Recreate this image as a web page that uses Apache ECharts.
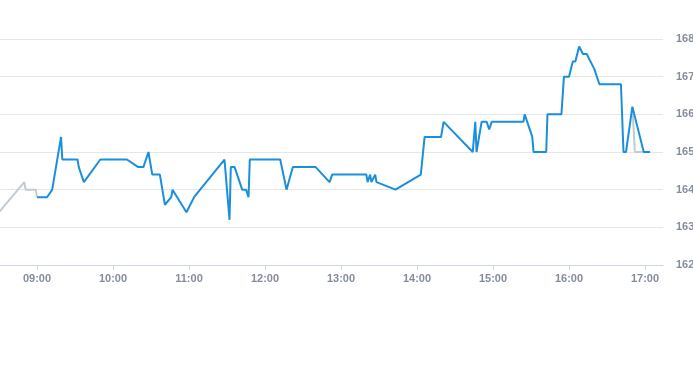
<!DOCTYPE html>
<html>
<head>
<meta charset="utf-8">
<script src="https://cdn.jsdelivr.net/npm/echarts@6/dist/echarts.min.js"></script>
<style>
html,body{margin:0;padding:0;background:#fff;}
#c{width:693px;height:365px;}
</style>
</head>
<body>
<div id="c"></div>
<script>
// Pre-market segment (grey)
var preTimes  = ['08:30','08:50','08:51','08:59','09:00'];
var preValues = [163.4, 164.2, 164.0, 164.0, 163.8];

// Main trading segment (blue)
var mainTimes = ['09:00','09:08','09:12','09:19','09:20','09:32','09:33','09:37','09:50','10:11',
  '10:20','10:24','10:28','10:31','10:37','10:41','10:46','10:47','10:58','11:04',
  '11:28','11:32','11:33','11:36','11:42','11:45','11:47','11:48','12:12','12:17',
  '12:22','12:40','12:51','12:53','13:20','13:21','13:23','13:24','13:27','13:28',
  '13:43','14:03','14:06','14:19','14:21','14:44','14:46','14:47','14:51','14:55',
  '14:57','14:59','15:24','15:25','15:29','15:31','15:32','15:42','15:43','15:54',
  '15:56','16:00','16:03','16:05','16:08','16:09','16:11','16:14','16:20','16:24',
  '16:41','16:43','16:45','16:50','16:59','17:04'];
var mainValues = [163.8,163.8,164.0,165.4,164.8,164.8,164.6,164.2,164.8,164.8,
  164.6,164.6,165.0,164.4,164.4,163.6,163.8,164.0,163.4,163.8,
  164.8,163.2,164.6,164.6,164.0,164.0,163.8,164.8,164.8,164.0,
  164.6,164.6,164.2,164.4,164.4,164.2,164.4,164.2,164.4,164.2,
  164.0,164.4,165.4,165.4,165.8,165.0,165.8,165.0,165.8,165.8,
  165.6,165.8,165.8,166.0,165.6,165.4,165.0,165.0,166.0,166.0,
  167.0,167.0,167.4,167.4,167.8,167.8,167.6,167.6,167.2,166.8,
  166.8,165.0,165.0,166.2,165.0,165.0];

// Post segment (grey)
var postTimes  = ['16:50','16:52','16:59'];
var postValues = [166.2, 165.0, 165.0];

// Axis
var axisStart = '08:30:48';
var axisEnd   = '17:14:12';
var yMin = 162, yMax = 168, yStep = 1;

function toDate(s){
  var p = s.split(':').map(Number);
  return new Date(2024, 0, 2, p[0], p[1], p[2] || 0).getTime();
}
function pairs(ts, vs){ return ts.map(function(t,i){ return [toDate(t), vs[i]]; }); }

var chart = echarts.init(document.getElementById('c'), null, {renderer:'canvas'});
var font = "'Liberation Sans', Arial, sans-serif";
chart.setOption({
  animation: false,
  backgroundColor: '#ffffff',
  grid: {left: 0, right: 30, top: 39, bottom: 100, containLabel: false, outerBoundsMode: 'none'},
  xAxis: {
    type: 'time',
    min: toDate(axisStart),
    max: toDate(axisEnd),
    minInterval: 3600000,
    maxInterval: 3600000,
    axisLine: {show: true, lineStyle: {color: '#ccd6eb', width: 1}},
    axisTick: {show: true, length: 5, lineStyle: {color: '#ccd6eb'}},
    axisLabel: {
      color: '#858d9b', fontSize: 11, fontWeight: 'bold', fontFamily: font, margin: 8,
      formatter: function(v){ var d = new Date(v); return ('0'+d.getHours()).slice(-2)+':'+('0'+d.getMinutes()).slice(-2); },
      showMinLabel: false, showMaxLabel: false
    },
    splitLine: {show: false}
  },
  yAxis: {
    type: 'value',
    position: 'right',
    min: yMin, max: yMax, interval: yStep,
    axisLine: {show: false},
    axisTick: {show: false},
    axisLabel: {color: '#858d9b', fontSize: 11, fontWeight: 'bold', fontFamily: font, margin: 13},
    splitLine: {show: true, lineStyle: {color: '#e6e6e6', width: 1}}
  },
  series: [
    {type: 'line', data: pairs(preTimes, preValues), showSymbol: false, z: 1,
     lineStyle: {color: '#c2cad4', width: 2}},
    {type: 'line', data: pairs(postTimes, postValues), showSymbol: false, z: 1,
     lineStyle: {color: '#c2cad4', width: 2}},
    {type: 'line', data: pairs(mainTimes, mainValues), showSymbol: false, z: 2,
     lineStyle: {color: '#1a8fdc', width: 2}}
  ]
});
</script>
</body>
</html>
